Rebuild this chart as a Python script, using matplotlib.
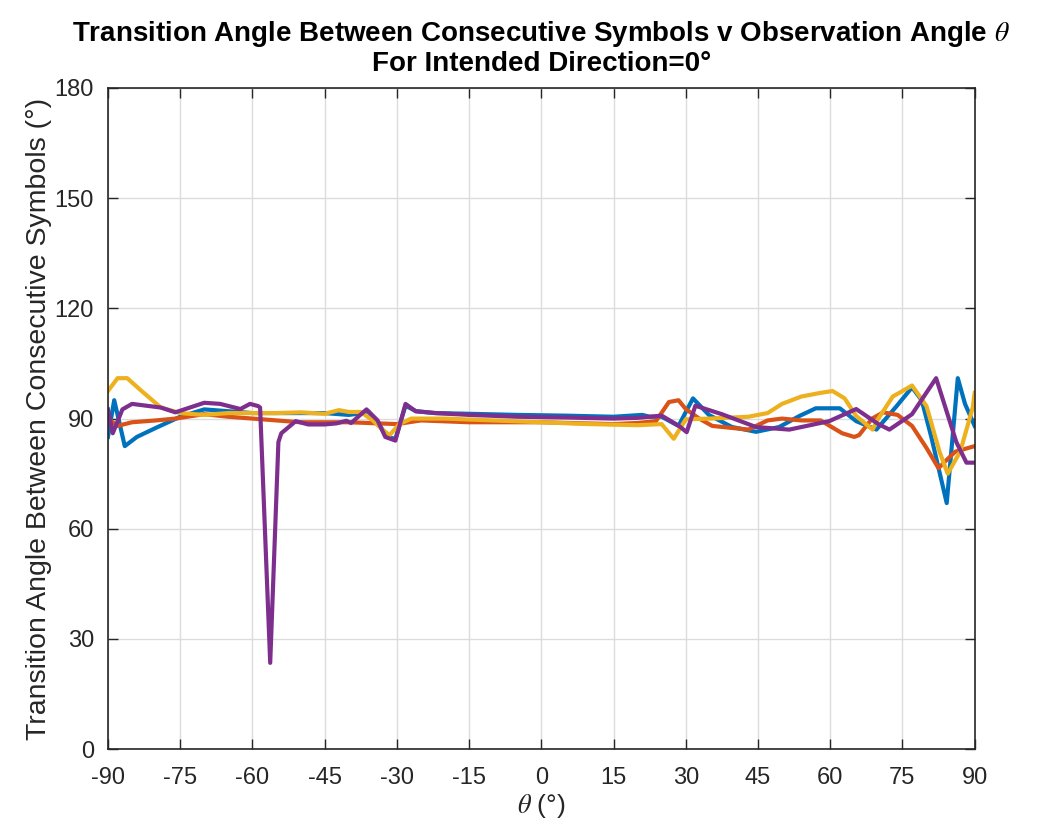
import matplotlib
matplotlib.use('Agg')
import matplotlib.pyplot as plt

plt.rcParams['font.family'] = ['Liberation Sans', 'DejaVu Sans']
plt.rcParams['mathtext.fontset'] = 'stix'
plt.rcParams['axes.unicode_minus'] = False

# Transition angle (deg) vs observation angle theta, one curve per symbol pair
theta_blue = [-90, -88.7, -86.5, -84, -80, -75, -70, -65, -60, -55, -50, -45, -40, -37,
              -36, -34, -32, -30.3, -28.2, -26, -22, -15, -5, 5, 15, 21, 22.5, 25, 28.5,
              31.5, 34.8, 39.6, 44.6, 49.4, 53.6, 57, 62, 65.4, 69.6, 73.8, 77, 79, 81,
              84.2, 86.5, 88, 90]
angle_blue = [85, 95, 82.5, 85, 87.5, 90.5, 92.5, 92, 91.5, 91.5, 91.5, 91.5, 91, 91.5,
              92, 89, 85, 84.5, 93.5, 92, 91.5, 91.3, 91, 90.8, 90.5, 91, 90.5, 90.5, 88,
              95.5, 91, 87.7, 86.4, 87.7, 90.7, 92.8, 92.8, 89.3, 87, 93.4, 98.5, 95, 85,
              67, 101, 94, 88]

theta_red = [-90, -88, -85, -80, -76, -70, -65, -60, -55, -50, -40, -30, -25, -15, 0, 15,
             20, 23.8, 26.5, 28.5, 30, 32.8, 35.5, 43, 47, 50, 54, 58, 62.5, 65, 66, 68.7,
             71, 74, 77, 80, 82.5, 84, 86, 90]
angle_red = [90, 88, 89, 89.5, 90, 91.2, 90.5, 90, 89.5, 89, 89, 88.5, 89.5, 89, 89, 88.5,
             88.8, 89.3, 94.5, 95, 92.6, 90, 88, 87, 89.5, 90, 89.5, 89.5, 86, 85, 85.5, 90,
             91.7, 91, 88, 82, 76.5, 78.5, 81, 82.5]

theta_yellow = [-90, -88, -86, -83, -79, -75, -70, -65, -60, -55, -50, -45, -42, -40, -37.5,
                -35, -33, -31.5, -29.5, -27, -20, -10, 0, 10, 20, 25, 27.5, 30, 35, 43, 47,
                50, 54, 58, 60.5, 63, 65.4, 68.8, 70, 73, 77, 80, 82.7, 84.4, 87, 89.6, 90]
angle_yellow = [97.5, 101, 101, 97.5, 93, 91.5, 91, 91.5, 91.5, 91.5, 91.7, 91.3, 92.3, 91.8,
                91.8, 89.5, 87, 85.5, 88.5, 90, 90, 89.5, 89, 88.5, 88.2, 88.5, 84.5, 89.8,
                90, 90.5, 91.5, 94, 96, 97, 97.5, 95.5, 90.7, 87, 90, 96, 99, 93.4, 81, 75,
                81, 93, 97]

theta_purple = [-90, -89, -87, -85, -82, -79, -76, -73, -70, -66.7, -62.5, -60.5, -58.8,
                -58.4, -56.3, -54.6, -54, -51, -48.4, -45, -42.5, -40.5, -39.5, -36.3, -34,
                -32.4, -30.3, -28.2, -26.1, -22, -15, -5, 5, 15, 20, 25, 28.6, 30.2, 32,
                37.5, 44.6, 51.5, 59.8, 65.4, 70, 72.3, 77, 82, 86.2, 88.3, 90]
angle_purple = [92.5, 86, 92.5, 94, 93.5, 93, 91.7, 93, 94.3, 94, 92.6, 94, 93.4, 93, 23.5,
                83.6, 86, 89.3, 88.4, 88.4, 88.7, 89.4, 88.8, 92.5, 89.5, 85, 84, 94, 92,
                91.5, 91, 90.5, 90.3, 90, 90.2, 90.8, 88, 86.3, 93.5, 91.2, 87.7, 87, 89.3,
                92.6, 88.5, 87, 91.2, 101, 83.6, 78, 78]

x_ticks = list(range(-90, 91, 15))
y_ticks = list(range(0, 181, 30))

fig = plt.figure(figsize=(10.48, 8.38), dpi=100)
ax = fig.add_axes([0.103, 0.106, 0.827, 0.789])

lw = 3.0
ax.plot(theta_blue, angle_blue, color='#0072BD', lw=lw)
ax.plot(theta_red, angle_red, color='#D95319', lw=lw)
ax.plot(theta_yellow, angle_yellow, color='#EDB120', lw=lw)
ax.plot(theta_purple, angle_purple, color='#7E2F8E', lw=lw)

ax.set_xlim(-90, 90)
ax.set_ylim(0, 180)
ax.set_xticks(x_ticks)
ax.set_yticks(y_ticks)
ax.grid(True, color='#DCDCDC', lw=1)
ax.set_axisbelow(True)
ax.tick_params(direction='in', top=True, right=True, length=7, width=1,
               labelsize=17, colors='#262626', pad=10)
ax.tick_params(axis='x', pad=13)
for sp in ax.spines.values():
    sp.set_color('#262626')
    sp.set_linewidth(1.2)

ax.set_xlabel(r'$\theta$ (°)', fontsize=19, color='#262626', labelpad=2)
ax.set_ylabel('Transition Angle Between Consecutive Symbols (°)', fontsize=20.5,
              color='#262626', labelpad=2)
ax.set_title('Transition Angle Between Consecutive Symbols v Observation Angle $\\theta$\n'
             'For Intended Direction=0°', fontsize=20, fontweight='bold', pad=12,
             linespacing=1.1)

fig.savefig('out.png', dpi=100, facecolor='white')
